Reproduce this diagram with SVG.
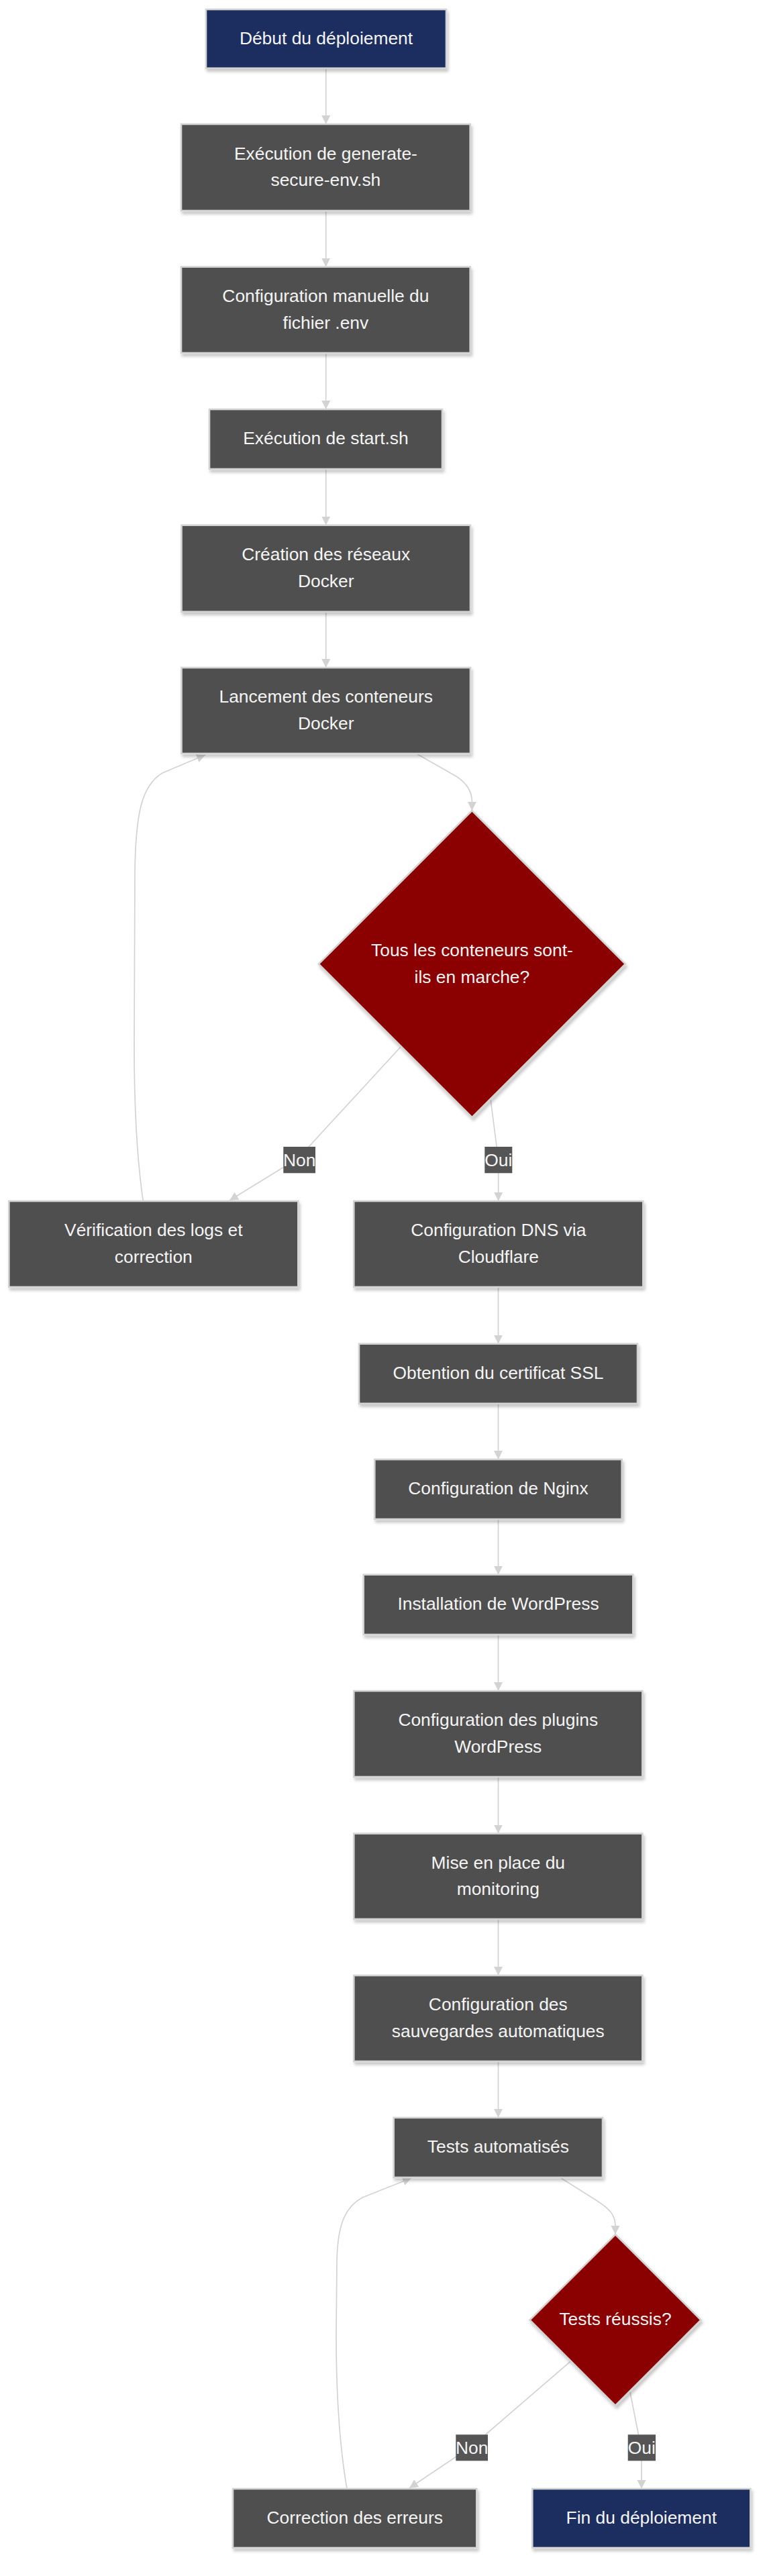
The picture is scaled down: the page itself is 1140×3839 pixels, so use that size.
<svg xmlns="http://www.w3.org/2000/svg" width="1140" height="3839" viewBox="0 0 1140 3839">
<style>
.bg{fill:#ffffff}
.e{fill:none;stroke:#d3d3d3;stroke-width:1.7}
.n{fill:#505050;stroke:#d3d3d3;stroke-width:2.6;filter:url(#sh)}
.s{fill:#1f2f5f;stroke:#d3d3d3;stroke-width:2.6;filter:url(#sh)}
.d{fill:#8b0000;stroke:#d3d3d3;stroke-width:2.6;filter:url(#sh)}
.t{font-family:"Liberation Sans",Arial,Helvetica,sans-serif;font-size:26.4px;fill:#f4f4f4;text-anchor:middle}
.lb{fill:#555555}
</style>
<defs>
<marker id="ah" markerUnits="userSpaceOnUse" markerWidth="14" markerHeight="14" refX="13" refY="6.5" orient="auto">
<path d="M0,0 L13,6.5 L0,13 z" fill="#d3d3d3"/>
</marker>
<filter id="sh" x="-10%" y="-10%" width="125%" height="130%">
<feDropShadow dx="2" dy="4" stdDeviation="2" flood-color="#000000" flood-opacity="0.22"/>
</filter>
</defs>
<rect class="bg" x="0" y="0" width="1140" height="3839"/>
<g id="connectors">
<path class="e" marker-end="url(#ah)" d="M485.7,101.7 L485.7,185"/>
<path class="e" marker-end="url(#ah)" d="M485.7,314 L485.7,397.7"/>
<path class="e" marker-end="url(#ah)" d="M485.7,526 L485.7,610"/>
<path class="e" marker-end="url(#ah)" d="M485.7,699 L485.7,782.7"/>
<path class="e" marker-end="url(#ah)" d="M485.7,911.7 L485.7,995"/>
<path class="e" marker-end="url(#ah)" d="M622,1124 L680,1157 C697,1168 703.4,1180 703.4,1195 L703.4,1208"/>
<path class="e" marker-end="url(#ah)" d="M600,1557 L462,1707 Q446,1724 425,1738 L342,1789"/>
<path class="e" marker-end="url(#ah)" d="M730,1630 L740,1708 Q742.7,1730 742.7,1750 L742.7,1790"/>
<path class="e" marker-end="url(#ah)" d="M213.3,1790 C203,1720 200,1640 200,1560 L201,1300 C202,1210 212,1170 242,1152 L306,1125"/>
<path class="e" marker-end="url(#ah)" d="M742.5,1918 L742.5,2002.7"/>
<path class="e" marker-end="url(#ah)" d="M742.5,2091.7 L742.5,2175"/>
<path class="e" marker-end="url(#ah)" d="M742.5,2264 L742.5,2346.7"/>
<path class="e" marker-end="url(#ah)" d="M742.5,2436 L742.5,2520"/>
<path class="e" marker-end="url(#ah)" d="M742.5,2648 L742.5,2732.6"/>
<path class="e" marker-end="url(#ah)" d="M742.5,2860 L742.5,2944"/>
<path class="e" marker-end="url(#ah)" d="M742.5,3072 L742.5,3156"/>
<path class="e" marker-end="url(#ah)" d="M836,3246 L890,3280 C910,3293 917,3302 917,3318 L917,3330"/>
<path class="e" marker-end="url(#ah)" d="M855,3515 L725,3627 Q705,3645 680,3661 L610,3708"/>
<path class="e" marker-end="url(#ah)" d="M937,3555 L951,3626 Q956,3650 956,3670 L956,3709"/>
<path class="e" marker-end="url(#ah)" d="M517,3709 C505,3640 501,3560 501,3480 L502,3370 C503,3320 512,3290 540,3275 L613,3246"/>
<rect class="lb" x="422.3" y="1709" width="47.7" height="39.3"/>
<text class="t" x="446.2" y="1737.6">Non</text>
<rect class="lb" x="722.3" y="1709" width="41" height="39.3"/>
<text class="t" x="742.8" y="1737.6">Oui</text>
<rect class="lb" x="679.3" y="3628.3" width="47.7" height="39"/>
<text class="t" x="703.2" y="3656.8">Non</text>
<rect class="lb" x="935.7" y="3628.3" width="41.3" height="39"/>
<text class="t" x="956.3" y="3656.8">Oui</text>
</g>
<g id="start"><rect class="s" x="307" y="14" width="358" height="87.7"/><text class="t" x="486" y="65.5">Début du déploiement</text></g>
<g id="gen"><rect class="n" x="270" y="185" width="430.7" height="129"/><text class="t" x="485.4" y="237.7">Exécution de generate-</text><text class="t" x="485.4" y="277.3">secure-env.sh</text></g>
<g id="env"><rect class="n" x="270" y="397.7" width="430.7" height="128.3"/><text class="t" x="485.4" y="450">Configuration manuelle du</text><text class="t" x="485.4" y="489.7">fichier .env</text></g>
<g id="startsh"><rect class="n" x="312" y="610" width="347" height="89"/><text class="t" x="485.5" y="662">Exécution de start.sh</text></g>
<g id="reseaux"><rect class="n" x="270.5" y="782.7" width="430.5" height="129"/><text class="t" x="485.7" y="835.4">Création des réseaux</text><text class="t" x="485.7" y="875">Docker</text></g>
<g id="lancement"><rect class="n" x="270.5" y="995" width="430.5" height="128"/><text class="t" x="485.7" y="1047.2">Lancement des conteneurs</text><text class="t" x="485.7" y="1086.8">Docker</text></g>
<g id="check1"><polygon class="d" points="703.4,1208.2 931.9,1436.7 703.4,1665.2 474.9,1436.7"/><text class="t" x="703.4" y="1425">Tous les conteneurs sont-</text><text class="t" x="703.4" y="1464.6">ils en marche?</text></g>
<g id="verif"><rect class="n" x="13.3" y="1790" width="431" height="128"/><text class="t" x="228.8" y="1842.2">Vérification des logs et</text><text class="t" x="228.8" y="1881.8">correction</text></g>
<g id="dns"><rect class="n" x="527.3" y="1790" width="431" height="128"/><text class="t" x="742.8" y="1842.2">Configuration DNS via</text><text class="t" x="742.8" y="1881.8">Cloudflare</text></g>
<g id="ssl"><rect class="n" x="535" y="2002.7" width="415" height="89"/><text class="t" x="742.5" y="2054.7">Obtention du certificat SSL</text></g>
<g id="nginx"><rect class="n" x="558.3" y="2175" width="368.4" height="89"/><text class="t" x="742.5" y="2227">Configuration de Nginx</text></g>
<g id="wp"><rect class="n" x="541.7" y="2346.7" width="401.6" height="89.3"/><text class="t" x="742.5" y="2398.9">Installation de WordPress</text></g>
<g id="plugins"><rect class="n" x="527.3" y="2520" width="430" height="128"/><text class="t" x="742.3" y="2572.2">Configuration des plugins</text><text class="t" x="742.3" y="2611.8">WordPress</text></g>
<g id="monitoring"><rect class="n" x="527.3" y="2732.6" width="430" height="127.4"/><text class="t" x="742.3" y="2784.5">Mise en place du</text><text class="t" x="742.3" y="2824.1">monitoring</text></g>
<g id="sauvegardes"><rect class="n" x="527.3" y="2944" width="430" height="128"/><text class="t" x="742.3" y="2996.2">Configuration des</text><text class="t" x="742.3" y="3035.8">sauvegardes automatiques</text></g>
<g id="tests"><rect class="n" x="586.7" y="3156" width="311.3" height="89"/><text class="t" x="742.4" y="3208">Tests automatisés</text></g>
<g id="check2"><polygon class="d" points="917,3330 1044.5,3457.5 917,3585 789.5,3457.5"/><text class="t" x="917" y="3465">Tests réussis?</text></g>
<g id="correction"><rect class="n" x="347" y="3709" width="363.3" height="88"/><text class="t" x="528.7" y="3760.5">Correction des erreurs</text></g>
<g id="fin"><rect class="s" x="793.3" y="3709" width="325" height="88"/><text class="t" x="955.8" y="3760.5">Fin du déploiement</text></g>
</svg>
